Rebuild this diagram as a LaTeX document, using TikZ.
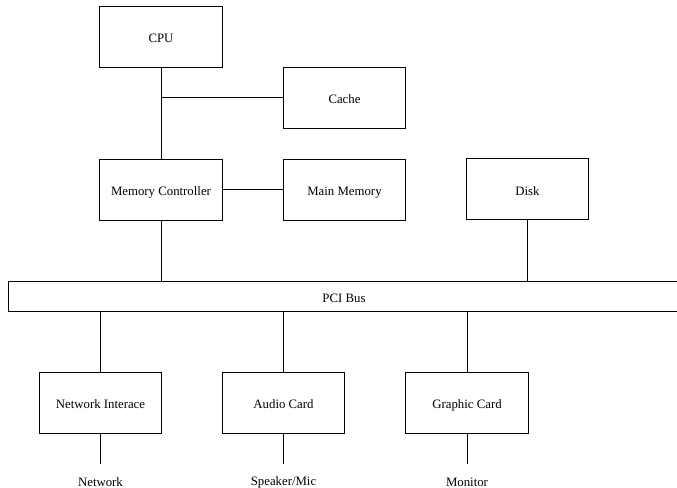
\documentclass[tikz,border=0pt]{standalone}
\usepackage{fontspec}
\setmainfont{Liberation Serif}
\usetikzlibrary{positioning}
\tikzset{
    unit/.style={draw, minimum width=92pt, minimum height=45.75pt, inner sep=0pt, text height=9.6pt, text depth=0pt, font=\fontsize{9.6}{11}\selectfont},
    bus/.style={draw, minimum width=504pt, minimum height=22.5pt, inner sep=0pt, text height=9.6pt, text depth=0pt, font=\fontsize{9.6}{11}\selectfont},
    port/.style={inner sep=0pt, font=\fontsize{9.6}{11}\selectfont}
}
\begin{document}
\begin{tikzpicture}[x=0.75pt,y=-0.75pt,line width=0.6pt]
            \useasboundingbox (0,0) rectangle (677,488);
            \clip (0,0) rectangle (677,488);
            \node[unit] (cpu) at (161,36.5) {CPU};
            \node[unit] (cache) at (344.5,97.5) {Cache};
            \node[unit] (mc) at (161,189.5) {Memory Controller};
            \node[unit] (mem) at (344.5,189.5) {Main Memory};
            \node[unit] (disk) at (527.5,189) {Disk};
            \node[bus] (pci) at (344,296) {PCI Bus};
            \node[unit] (nic) at (100.5,402.5) {Network Interace};
            \node[unit] (audio) at (283.5,402.5) {Audio Card};
            \node[unit] (gpu) at (467,402.5) {Graphic Card};
            \node[port] (net) at (100.5,482) {Network};
            \node[port] (spk) at (283.5,482) {Speaker/Mic};
            \node[port] (mon) at (467,482) {Monitor};
            \coordinate (netend) at (100.5,464);
            \coordinate (spkend) at (283.5,464);
            \coordinate (monend) at (467,464);
            \draw (cpu) -- (mc);
            \draw (cache) -- (cache -| cpu);
            \draw (mc) -- (mem);
            \draw (mc) -- (mc |- pci.north);
            \draw (disk) -- (disk |- pci.north);
            \draw (pci.south -| nic) -- (nic);
            \draw (pci.south -| audio) -- (audio);
            \draw (pci.south -| gpu) -- (gpu);
            \draw (nic) -- (netend);
            \draw (audio) -- (spkend);
            \draw (gpu) -- (monend);
        \end{tikzpicture}
\end{document}
